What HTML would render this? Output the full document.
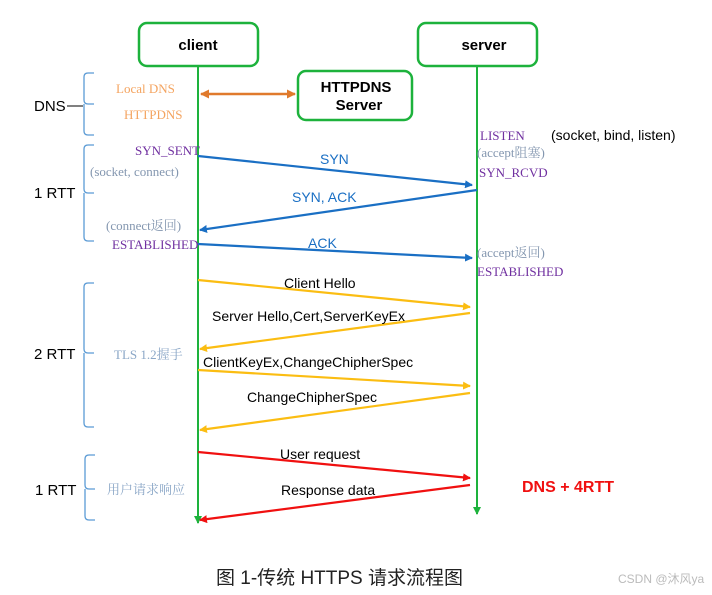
<!DOCTYPE html>
<html><head><meta charset="utf-8"><style>
body{margin:0;background:#fff;}
svg text{font-family:"Liberation Sans","Noto Sans CJK SC",sans-serif;}
.s{font-family:"Liberation Serif","Noto Serif CJK SC",serif !important;}
</style></head><body>
<svg width="712" height="590" viewBox="0 0 712 590" xmlns="http://www.w3.org/2000/svg">
<defs>
<marker id="b" markerWidth="8" markerHeight="8" refX="7" refY="4" orient="auto" markerUnits="userSpaceOnUse"><path d="M0,0 L8,4 L0,8 z" fill="#1a6fc4"/></marker>
<marker id="y" markerWidth="8" markerHeight="8" refX="7" refY="4" orient="auto" markerUnits="userSpaceOnUse"><path d="M0,0 L8,4 L0,8 z" fill="#fbbd12"/></marker>
<marker id="r" markerWidth="8" markerHeight="8" refX="7" refY="4" orient="auto" markerUnits="userSpaceOnUse"><path d="M0,0 L8,4 L0,8 z" fill="#f01010"/></marker>
<marker id="g" markerWidth="8" markerHeight="8" refX="7" refY="4" orient="auto" markerUnits="userSpaceOnUse"><path d="M0,0 L8,4 L0,8 z" fill="#1db23c"/></marker>
<marker id="o" markerWidth="9" markerHeight="9" refX="8" refY="4.5" orient="auto-start-reverse" markerUnits="userSpaceOnUse"><path d="M0,0 L9,4.5 L0,9 z" fill="#e07a2c"/></marker>
</defs>
<g fill="#fff" stroke="#1db23c" stroke-width="2.5">
<rect x="139" y="23" width="119" height="43" rx="8"/>
<rect x="418" y="23" width="119" height="43" rx="8"/>
<rect x="298" y="71" width="114" height="49" rx="8"/>
</g>
<g font-weight="bold" font-size="15" text-anchor="middle" fill="#000">
<text x="198" y="50">client</text><text x="484" y="50">server</text>
<text x="356" y="92">HTTPDNS</text><text x="359" y="110">Server</text>
</g>
<line x1="198" y1="67" x2="198" y2="523" stroke="#1db23c" stroke-width="2" marker-end="url(#g)"/>
<line x1="477" y1="67" x2="477" y2="514" stroke="#1db23c" stroke-width="2" marker-end="url(#g)"/>
<line x1="201" y1="94" x2="295" y2="94" stroke="#e07a2c" stroke-width="2.5" marker-start="url(#o)" marker-end="url(#o)"/>
<g stroke="#5b9bd5" fill="none" stroke-width="1.3">
<path d="M94,104 H88 Q84,104 84,100 V77 Q84,73 88,73 H94 M84,104 V131 Q84,135 88,135 H94"/>
<path d="M94,193 H88 Q84,193 84,189 V149 Q84,145 88,145 H94 M84,193 V237 Q84,241 88,241 H94"/>
<path d="M94,353 H88 Q84,353 84,349 V287 Q84,283 88,283 H94 M84,353 V423 Q84,427 88,427 H94"/>
<path d="M95,489 H89 Q85,489 85,485 V459 Q85,455 89,455 H95 M85,489 V516 Q85,520 89,520 H95"/>
</g>
<g stroke="#000" stroke-width="1"><line x1="67" y1="106" x2="83" y2="106"/></g>
<g font-size="15" fill="#000">
<text x="34" y="111">DNS</text><text x="34" y="198">1 RTT</text><text x="34" y="359">2 RTT</text><text x="35" y="495">1 RTT</text>
</g>
<g stroke-width="2.2">
<line x1="198" y1="156" x2="472" y2="185" stroke="#1a6fc4" marker-end="url(#b)"/>
<line x1="477" y1="190" x2="200" y2="230" stroke="#1a6fc4" marker-end="url(#b)"/>
<line x1="198" y1="244" x2="472" y2="258" stroke="#1a6fc4" marker-end="url(#b)"/>
<line x1="198" y1="280" x2="470" y2="307" stroke="#fbbd12" marker-end="url(#y)"/>
<line x1="470" y1="313" x2="200" y2="349" stroke="#fbbd12" marker-end="url(#y)"/>
<line x1="198" y1="370" x2="470" y2="386" stroke="#fbbd12" marker-end="url(#y)"/>
<line x1="470" y1="393" x2="200" y2="430" stroke="#fbbd12" marker-end="url(#y)"/>
<line x1="198" y1="452" x2="470" y2="478" stroke="#f01010" marker-end="url(#r)"/>
<line x1="470" y1="485" x2="200" y2="520" stroke="#f01010" marker-end="url(#r)"/>
</g>
<g class="s" font-size="13">
<text class="s" x="116" y="93" fill="#f4a460">Local DNS</text>
<text class="s" x="124" y="119" fill="#f4a460">HTTPDNS</text>
<text class="s" x="135" y="155" fill="#7030a0">SYN_SENT</text>
<text class="s" x="90" y="176" fill="#8497b0">(socket, connect)</text>
<text class="s" x="106" y="230" fill="#8497b0">(connect返回)</text>
<text class="s" x="112" y="249" fill="#7030a0">ESTABLISHED</text>
<text class="s" x="480" y="140" fill="#7030a0">LISTEN</text>
<text class="s" x="477" y="157" fill="#8497b0">(accept阻塞)</text>
<text class="s" x="479" y="177" fill="#7030a0">SYN_RCVD</text>
<text class="s" x="477" y="257" fill="#8497b0">(accept返回)</text>
<text class="s" x="477" y="276" fill="#7030a0">ESTABLISHED</text>
<text class="s" x="114" y="359" fill="#8ba7c7">TLS 1.2握手</text>
<text class="s" x="107" y="494" fill="#8ba7c7">用户请求响应</text>
</g>
<g font-size="14">
<text x="551" y="140" fill="#000">(socket, bind, listen)</text>
<text x="320" y="164" fill="#1a6fc4">SYN</text>
<text x="292" y="202" fill="#1a6fc4">SYN, ACK</text>
<text x="308" y="248" fill="#1a6fc4">ACK</text>
<text x="284" y="288" fill="#000">Client Hello</text>
<text x="212" y="321" fill="#000">Server Hello,Cert,ServerKeyEx</text>
<text x="203" y="367" fill="#000">ClientKeyEx,ChangeChipherSpec</text>
<text x="247" y="402" fill="#000">ChangeChipherSpec</text>
<text x="280" y="459" fill="#000">User request</text>
<text x="281" y="495" fill="#000">Response data</text>
</g>
<text x="522" y="492" font-size="16" font-weight="bold" fill="#f01010">DNS + 4RTT</text>
<text x="216" y="584" font-size="19" fill="#222">图 1-传统 HTTPS 请求流程图</text>
<text x="618" y="583" font-size="12" fill="#bbb">CSDN @沐风ya</text>
</svg>
</body></html>
